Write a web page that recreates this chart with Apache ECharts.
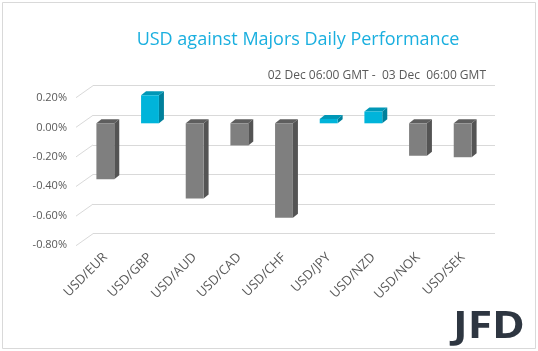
<!DOCTYPE html>
<html>
<head>
<meta charset="utf-8">
<script src="https://cdn.jsdelivr.net/npm/echarts@6/dist/echarts.min.js"></script>
<style>
html,body{margin:0;padding:0;background:#fff;}
#c{width:538px;height:351px;}
</style>
</head>
<body>
<div id="c"></div>
<script>
var categories = ['USD/EUR','USD/GBP','USD/AUD','USD/CAD','USD/CHF','USD/JPY','USD/NZD','USD/NOK','USD/SEK'];
var values = [-0.38, 0.19, -0.51, -0.15, -0.64, 0.03, 0.08, -0.22, -0.23];
var yTicks = [0.2, 0, -0.2, -0.4, -0.6, -0.8];
var titleText = 'USD against Majors Daily Performance';
var subtitleText = '02 Dec 06:00 GMT -  03 Dec  06:00 GMT';
var logoText = 'JFD';

var FONT = '"Open Sans", "Noto Sans", sans-serif';
var DX = 5, DY = -4;           // bar depth
var WX = -17, WY = 12;         // wall depth (back -> front)

var chart = echarts.init(document.getElementById('c'), null, {renderer: 'canvas'});

function fmtPct(v){ return v.toFixed(2) + '%'; }

var option = {
  backgroundColor: '#ffffff',
  animation: false,
  title: [
    {text: titleText, left: 293, textAlign: 'center', top: 26,
     textStyle: {color: '#1aafdf', fontFamily: FONT, fontSize: 18, fontWeight: 'normal'}},
    {text: subtitleText, right: 47, top: 65,
     textStyle: {color: '#595959', fontFamily: FONT, fontSize: 12, fontWeight: 'normal'}}
  ],
  grid: [
    {left: 93, right: 43, top: 85.7, height: 148},      // back wall
    {left: 83, width: 402, top: 93.8, height: 147.5},   // bars
    {left: 76, width: 402, top: 98, height: 147}        // front labels
  ],
  xAxis: [
    {gridIndex: 0, type: 'value', min: 0, max: 1, show: false},
    {gridIndex: 1, type: 'category', data: categories,
     axisLine: {show: false}, axisTick: {show: false},
     axisLabel: {rotate: 45, margin: 14, color: '#595959', fontFamily: FONT, fontSize: 13, interval: 0}},
    {gridIndex: 2, type: 'value', min: 0, max: 1, show: false}
  ],
  yAxis: [
    {gridIndex: 0, type: 'value', min: -0.8, max: 0.2, interval: 0.2,
     axisLine: {show: false}, axisTick: {show: false}, axisLabel: {show: false},
     splitLine: {show: true, lineStyle: {color: '#d9d9d9', width: 1}}},
    {gridIndex: 1, type: 'value', min: -0.8, max: 0.2, interval: 0.2, show: false},
    {gridIndex: 2, type: 'value', min: -0.8, max: 0.2, interval: 0.2,
     axisLine: {show: false}, axisTick: {show: false}, splitLine: {show: false},
     axisLabel: {margin: 9, color: '#595959', fontFamily: FONT, fontSize: 11,
                 formatter: function(v){ return fmtPct(v); }}}
  ],
  series: [
    {
      type: 'custom', xAxisIndex: 0, yAxisIndex: 0, silent: true,
      data: yTicks.map(function(v){ return [0, v]; }),
      renderItem: function(params, api){
        var p = api.coord([api.value(0), api.value(1)]);
        return {type: 'line', shape: {x1: p[0], y1: p[1], x2: p[0] + WX, y2: p[1] + WY},
                style: {stroke: '#d9d9d9', lineWidth: 1}};
      }
    },
    {
      type: 'custom', xAxisIndex: 1, yAxisIndex: 1, silent: true,
      data: values.map(function(v, i){ return [i, v]; }),
      renderItem: function(params, api){
        var i = api.value(0), v = api.value(1);
        var p0 = api.coord([i, 0]);
        var p1 = api.coord([i, v]);
        var w = api.size([1, 0])[0] * 0.4;
        var x0 = p0[0] - w / 2, x1 = p0[0] + w / 2;
        var yTop = Math.min(p0[1], p1[1]), yBot = Math.max(p0[1], p1[1]);
        var pos = v >= 0;
        var cFront = pos ? '#00b4da' : '#7f7f7f';
        var cSide = pos ? '#00809b' : '#545454';
        var cTop = pos ? '#0097b6' : '#5e5e5e';
        return {type: 'group', children: [
          {type: 'polygon', shape: {points: [[x1, yTop], [x1 + DX, yTop + DY], [x1 + DX, yBot + DY], [x1, yBot]]},
           style: {fill: cSide}},
          {type: 'polygon', shape: {points: [[x0, yTop], [x1, yTop], [x1 + DX, yTop + DY], [x0 + DX, yTop + DY]]},
           style: {fill: cTop}},
          {type: 'rect', shape: {x: x0, y: yTop, width: w, height: yBot - yTop},
           style: {fill: cFront}}
        ]};
      }
    }
  ],
  graphic: [
    {type: 'rect', shape: {x: 2.5, y: 2.5, width: 533, height: 346},
     style: {fill: 'none', stroke: '#d9d9d9', lineWidth: 1}},
    {type: 'text', x: 453, y: 327, scaleX: 1.2,
     style: {text: logoText, fill: '#2e3641', font: 'bold 37px ' + FONT,
             textAlign: 'left', textVerticalAlign: 'middle'}}
  ]
};
chart.setOption(option);
</script>
</body>
</html>
